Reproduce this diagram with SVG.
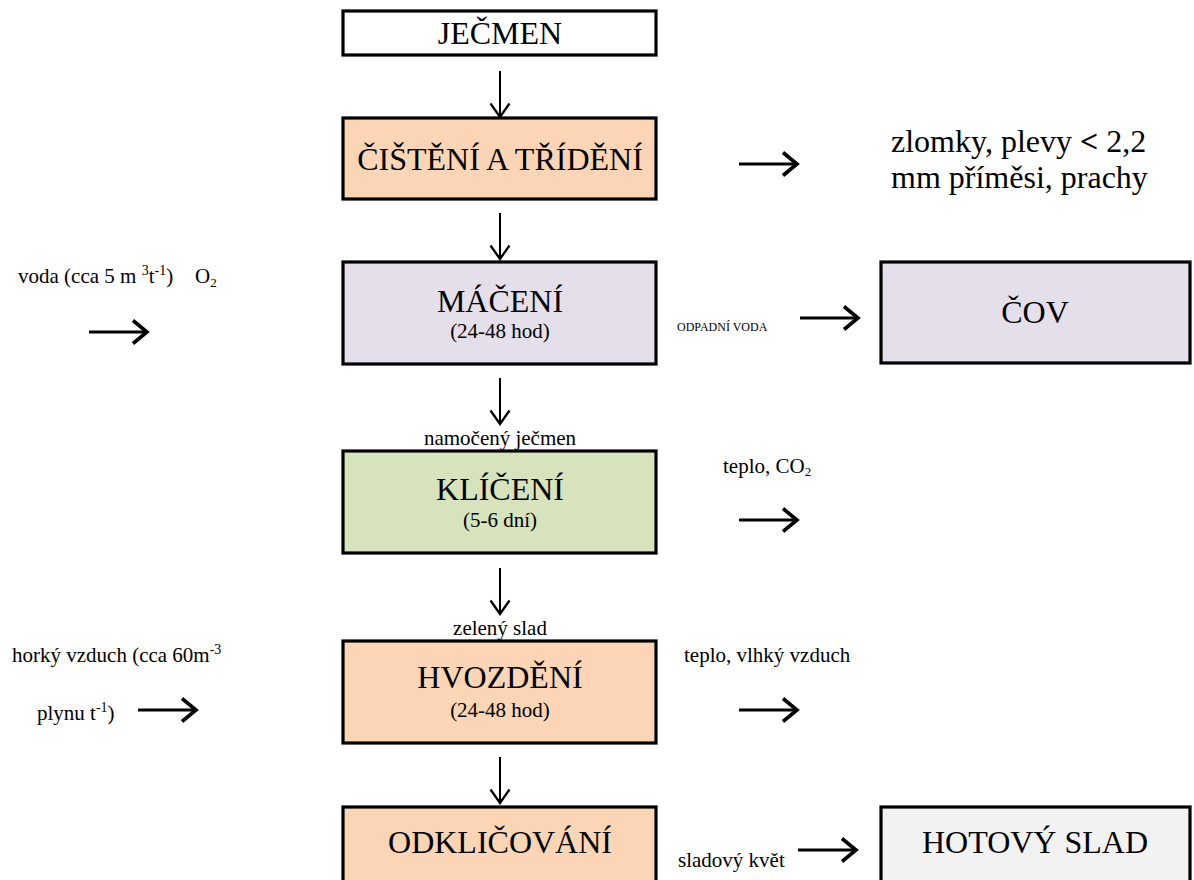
<svg xmlns="http://www.w3.org/2000/svg" xmlns:xlink="http://www.w3.org/1999/xlink" width="1194" height="880" viewBox="0 0 1194 880">
<style>
  text { font-family: "Liberation Serif", "Times New Roman", serif; fill: #000; }
  .big { font-size: 32px; text-anchor: middle; }
  .mid { font-size: 21px; }
  .sub { font-size: 21px; text-anchor: middle; }
  .tiny { font-size: 12px; }
  .box { stroke: #000; stroke-width: 3.2; }
  .ln { stroke: #000; fill: none; }
</style>
<defs>
  <g id="harrow">
    <line class="ln" x1="0" y1="0" x2="57" y2="0" stroke-width="2.9"/>
    <path class="ln" d="M44,-11.5 L58,0 L44,11.5" stroke-width="3.6" stroke-linejoin="miter"/>
  </g>
  <g id="varrow">
    <line class="ln" x1="0" y1="0" x2="0" y2="45" stroke-width="2"/>
    <path class="ln" d="M-9.5,32.5 L0,46 L9.5,32.5" stroke-width="2.3" stroke-linejoin="miter"/>
  </g>
</defs>
<rect width="1194" height="880" fill="#fff"/>

<g id="node-jecmen">
  <rect class="box" x="343" y="11" width="313" height="44" fill="#fff"/>
  <text class="big" x="500" y="44">JEČMEN</text>
</g>
<g id="node-cisteni">
  <rect class="box" x="343" y="118" width="313" height="81" fill="#FBD5B5"/>
  <text class="big" x="500" y="170">ČIŠTĚNÍ A TŘÍDĚNÍ</text>
</g>
<g id="node-maceni">
  <rect class="box" x="343" y="262" width="313" height="102" fill="#E5DFEC"/>
  <text class="big" x="500" y="312">MÁČENÍ</text>
  <text class="sub" x="500" y="338">(24-48 hod)</text>
</g>
<g id="node-cov">
  <rect class="box" x="881" y="262" width="309" height="101" fill="#E5DFEC"/>
  <text class="big" x="1035" y="323">ČOV</text>
</g>
<g id="node-kliceni">
  <rect class="box" x="343" y="451" width="313" height="102" fill="#D7E3BC"/>
  <text class="big" x="500" y="500">KLÍČENÍ</text>
  <text class="sub" x="500" y="527">(5-6 dní)</text>
</g>
<g id="node-hvozdeni">
  <rect class="box" x="343" y="641" width="313" height="102" fill="#FBD5B5"/>
  <text class="big" x="500" y="688">HVOZDĚNÍ</text>
  <text class="sub" x="500" y="717">(24-48 hod)</text>
</g>
<g id="node-odklicovani">
  <rect class="box" x="343" y="807" width="313" height="80" fill="#FBD5B5"/>
  <text class="big" x="500" y="853">ODKLIČOVÁNÍ</text>
</g>
<g id="node-hotovy">
  <rect class="box" x="881" y="807" width="309" height="80" fill="#F2F2F2"/>
  <text class="big" x="1035" y="853">HOTOVÝ SLAD</text>
</g>

<g id="labels">
  <text font-size="32" x="891" y="152">zlomky, plevy <tspan font-weight="bold">&lt;</tspan> 2,2</text>
  <text font-size="32" x="891" y="188">mm příměsi, prachy</text>

  <text class="mid" x="18" y="283">voda (cca 5 m <tspan font-size="14" dy="-8">3</tspan><tspan dy="8">t</tspan><tspan font-size="14" dy="-8">-1</tspan><tspan dy="8">)</tspan></text>
  <text class="mid" x="195" y="283">O<tspan font-size="13" dy="4">2</tspan></text>

  <text class="tiny" x="677" y="331">ODPADNÍ VODA</text>

  <text class="sub" x="500" y="445">namočený ječmen</text>
  <text class="mid" x="723" y="473">teplo, CO<tspan font-size="13" dy="3">2</tspan></text>

  <text class="sub" x="500" y="635">zelený slad</text>
  <text class="mid" x="12" y="662">horký vzduch (cca 60m<tspan font-size="14" dy="-8">-3</tspan></text>
  <text class="mid" x="37" y="720">plynu t<tspan font-size="14" dy="-8">-1</tspan><tspan dy="8">)</tspan></text>
  <text class="mid" x="684" y="662">teplo, vlhký vzduch</text>

  <text class="mid" x="678" y="867">sladový květ</text>
</g>

<g id="connectors">
  <use xlink:href="#varrow" href="#varrow" x="500" y="71"/>
  <use xlink:href="#varrow" href="#varrow" x="500" y="213"/>
  <use xlink:href="#varrow" href="#varrow" x="500" y="378"/>
  <use xlink:href="#varrow" href="#varrow" x="500" y="568"/>
  <use xlink:href="#varrow" href="#varrow" x="500" y="757"/>

  <use xlink:href="#harrow" href="#harrow" x="739" y="164"/>
  <use xlink:href="#harrow" href="#harrow" x="89" y="332"/>
  <use xlink:href="#harrow" href="#harrow" x="800" y="318"/>
  <use xlink:href="#harrow" href="#harrow" x="739" y="520"/>
  <use xlink:href="#harrow" href="#harrow" x="138" y="710"/>
  <use xlink:href="#harrow" href="#harrow" x="739" y="710"/>
  <use xlink:href="#harrow" href="#harrow" x="798" y="850"/>
</g>
</svg>
